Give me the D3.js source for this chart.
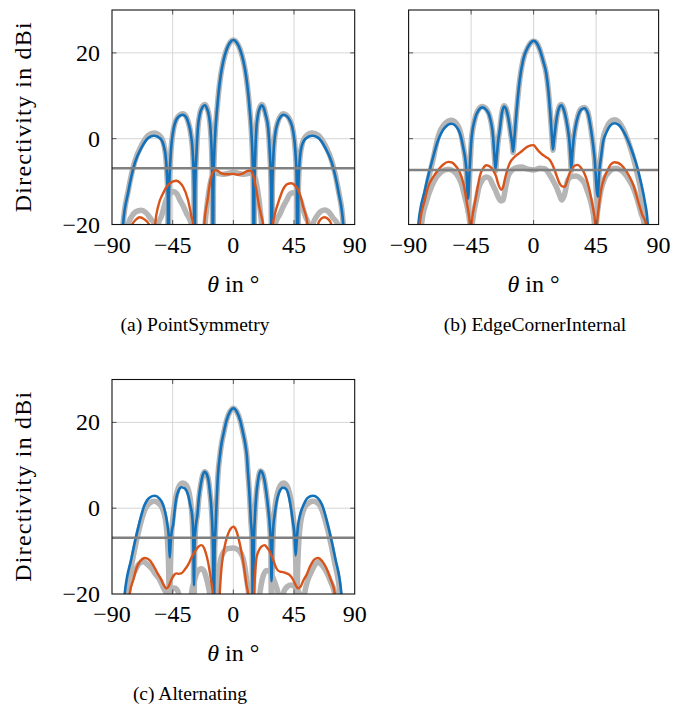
<!DOCTYPE html>
<html><head><meta charset="utf-8">
<script src="https://cdn.jsdelivr.net/npm/d3@7"></script>
<style>body{margin:0;background:#fff}svg{display:block}</style>
</head><body>
<svg id="c" width="685" height="707"></svg>
<script>
// ---------- data (theta in deg, directivity in dBi) ----------
const thetaTicks = [-90, -45, 0, 45, 90];
const dbTicks = [-20, 0, 20];
const captions = ["(a) PointSymmetry", "(b) EdgeCornerInternal", "(c) Alternating"];
const thresholds = [-6.9, -7.3, -6.9];

const aBlue = [[-83,-45],[-81.8,-20],[-78,-12.5],[-73,-5.6],[-68,-2],[-63,0.2],[-58.8,0.7],[-54,0],[-51,-2.5],[-49.5,-7],[-48.6,-14],[-48.2,-45],
[-47.8,-14],[-46.5,-4],[-44.5,2.0],[-42.3,4.4],[-40,5.3],[-37.5,5.6],[-35,5.0],[-33.5,3.8],[-31.5,1],[-30,-4],[-29.2,-12],[-28.8,-45],
[-28.3,-12],[-27.3,-3],[-26.3,2.5],[-24.7,5.9],[-23,7.3],[-21.2,7.8],[-19.5,7.0],[-18.2,5.5],[-16.9,2],[-16,-4],[-15.5,-12],[-15.2,-45],
[-14.8,-12],[-14.3,-5],[-13.3,2],[-12.2,6.5],[-11.2,10],[-9.5,14.5],[-7.5,18],[-5,20.8],[-2.5,22.4],[0,23],[2.5,22.4],[5,20.8],[7.5,18],[9.5,14.5],[11.2,10],[12.2,6.5],[13.3,2],[14.3,-5],[14.8,-12],[15.2,-45],
[15.6,-12],[16.2,-4],[17,2],[18.2,5.5],[19.8,7.3],[21,7.8],[22.5,7.2],[24,5.5],[25.8,2.5],[27,-3],[28,-12],[28.4,-45],
[28.9,-12],[29.7,-4],[31,1],[33,3.8],[35,5.1],[37,5.6],[39.5,5.3],[42,4.2],[44.3,1.8],[46,-3],[47,-10],[47.6,-45],
[48.2,-12],[49,-6],[50.5,-2],[53.5,0],[58.5,0.7],[63,0.2],[68,-2],[73,-5.6],[78,-12.5],[81.5,-20],[83,-45]];

const aGrayHi = [[-83,-45],[-81.8,-20],[-78,-12.2],[-73,-5.2],[-68,-1.5],[-63,0.8],[-58.8,1.3],[-54,0.5],[-51,-2.2],[-49.5,-7],[-48.6,-14],[-48.2,-45],
[-47.8,-14],[-46.5,-4],[-44.5,2.0],[-42.3,4.5],[-40,5.5],[-37.5,5.8],[-35,5.2],[-33.5,3.9],[-31.5,1],[-30,-4],[-29.2,-12],[-28.8,-45],
[-28.3,-12],[-27.3,-3],[-26.3,2.5],[-24.7,6.0],[-23,7.5],[-21.2,8.0],[-19.5,7.2],[-18.2,5.6],[-16.9,2],[-16,-4],[-15.5,-12],[-15.2,-45],
[-14.8,-12],[-14.3,-5],[-13.3,2],[-12.2,6.5],[-11.2,10],[-9.5,14.5],[-7.5,18],[-5,20.8],[-2.5,22.4],[0,23],[2.5,22.4],[5,20.8],[7.5,18],[9.5,14.5],[11.2,10],[12.2,6.5],[13.3,2],[14.3,-5],[14.8,-12],[15.2,-45],
[15.6,-12],[16.2,-4],[17,2],[18.2,5.6],[19.8,7.5],[21,8.0],[22.5,7.4],[24,5.6],[25.8,2.5],[27,-3],[28,-12],[28.4,-45],
[28.9,-12],[29.7,-4],[31,1],[33,3.9],[35,5.3],[37,5.8],[39.5,5.5],[42,4.3],[44.3,1.8],[46,-3],[47,-10],[47.6,-45],
[48.2,-12],[49,-6],[50.5,-2],[53.5,0.5],[58.5,1.3],[63,0.8],[68,-1.5],[73,-5.2],[78,-12.2],[81.5,-20],[83,-45]];

const aOrange = [[-77,-30],[-75,-20],[-72,-18.8],[-69.5,-18.3],[-66,-18.8],[-62.5,-20],[-61,-30],[-59.5,-30],[-58,-20],[-55.8,-15.8],[-52.1,-12.7],[-48.5,-10.8],[-45,-10],[-42.3,-9.8],[-39.5,-10.3],[-37.3,-11.2],[-33.6,-14.3],[-31.1,-18.1],[-29.6,-20.4],[-28,-30],
[-23,-30],[-21.5,-20],[-19,-14],[-17,-9.7],[-15,-7.8],[-13.2,-7.3],[-11,-7.6],[-8.9,-8.1],[-5.2,-8.3],[0,-8.2],[3.5,-8.4],[7,-8.1],[9.7,-7.6],[12,-7.4],[13.6,-7.7],[15.5,-9.5],[17.1,-12],[19,-15.5],[20.8,-18.1],[22,-20],[23.5,-30],
[28,-30],[29.4,-20],[31,-17.3],[33.2,-15],[36.9,-11.8],[40,-10.6],[43,-10.4],[46,-11],[48,-11.9],[50,-13.6],[51.7,-15.8],[54.9,-19.7],[56.5,-30],
[60.5,-30],[62.8,-20],[65,-18.7],[67.8,-18.3],[70.5,-18.8],[72.7,-20],[74.5,-30]];

const aGrayLo = [[-80,-30],[-78,-20],[-74,-17.5],[-70.5,-16.8],[-68.2,-16.7],[-65,-17.2],[-61,-18.8],[-58.3,-20],[-57,-30],
[-55.8,-20],[-53.4,-18.1],[-49.7,-14.2],[-47,-12.8],[-44.7,-12.3],[-42,-12.8],[-39.8,-14.2],[-37,-15.8],[-34.8,-17.4],[-31.1,-20],[-30,-30],
[-23,-30],[-21,-20],[-19.5,-15.5],[-18,-12],[-16,-9],[-13,-8],[-8,-8.3],[-4,-8.1],[0,-7.8],[4,-8.1],[8,-8.3],[13,-8],[16,-9],[18,-12],[19.5,-15.5],[21,-20],[23,-30],
[29.5,-30],[31,-20],[34.8,-17.4],[37,-15.8],[39.8,-14.2],[42,-12.9],[44.3,-12.6],[47,-12.9],[49.7,-14.3],[53.4,-18.1],[55.8,-20],[57,-30],
[59,-20],[62,-18],[65,-16.9],[67.8,-16.6],[70.5,-17],[74,-18.5],[77.5,-20],[79,-30]];

const bBlue = [[-84,-25],[-83,-20],[-78.3,-12],[-73.5,-5.7],[-68.7,-0.3],[-63.9,2.6],[-59.1,3.5],[-54.4,2.2],[-50.8,-1.8],[-48.4,-7.3],[-47.2,-14],[-46,-7],[-44.8,-0.3],[-42.4,4.4],[-39.5,6.7],[-36.9,7.3],[-34,6.7],[-31.6,5.1],[-29.2,0.5],[-28,-5],[-27.4,-7],[-26.5,-4],[-25.5,-0.5],[-24.4,2],[-22.8,6],[-21.3,7.5],[-19.8,6.9],[-18.4,5.1],[-16.5,1.2],[-15.3,-1.5],[-14.8,-3],[-14,-0.5],[-12.4,5.9],[-10,13.7],[-7.6,18.3],[-4,21.4],[-2,22.4],[0,22.8],[2,22.4],[4.3,20.9],[7,18],[9.1,15.2],[10.7,11],[12,5.9],[13.3,0],[13.9,-2.5],[14.5,-1],[15.5,2],[17,5.5],[18.5,7.3],[19.9,7.8],[21.5,7],[23.5,4.4],[25.2,1],[25.9,-1.1],[26.7,-5],[27.1,-7],[27.8,-4],[28.7,-0.5],[30,2.5],[32,5.3],[34,6.7],[36.6,7.1],[39,6],[41.4,2.0],[43.8,-4.2],[46.2,-13.5],[47.2,-8],[48.6,-4.2],[50,-0.8],[52.2,1.3],[55,3],[58.2,3.6],[61,3.3],[64.2,2.0],[68,-0.5],[71.4,-3.4],[74.5,-6.5],[77.4,-10.4],[80,-14.5],[82.2,-20],[83,-25]];

const bGrayHi = [[-82,-25],[-81,-20],[-77,-11.5],[-72.5,-5],[-68.7,0.5],[-63.9,3.5],[-59.1,4.3],[-54.4,3],[-50.8,-1.5],[-48.4,-8],[-47.2,-17],[-46,-8],[-44.8,-0.5],[-42.4,4.4],[-39.5,6.9],[-36.9,7.5],[-34,6.9],[-31.6,5.2],[-29.2,0.5],[-28,-5],[-27.4,-7.5],[-26.5,-4],[-25.5,-0.5],[-24.4,2],[-22.8,6.1],[-21.3,7.7],[-19.8,7.1],[-18.4,5.2],[-16.5,1.2],[-15.3,-1.5],[-14.8,-3.2],[-14,-0.5],[-12.4,5.9],[-10,13.7],[-7.6,18.3],[-4,21.4],[-2,22.4],[0,22.8],[2,22.4],[4.3,20.9],[7,18],[9.1,15.2],[10.7,11],[12,5.9],[13.3,0],[13.9,-2.7],[14.5,-1],[15.5,2],[17,5.6],[18.5,7.5],[19.9,8.0],[21.5,7.2],[23.5,4.5],[25.2,1],[25.9,-1.1],[26.7,-5],[27.1,-7.5],[27.8,-4],[28.7,-0.5],[30,2.5],[32,5.4],[34,6.9],[36.6,7.3],[39,6.2],[41.4,2.0],[43.8,-4.5],[46.2,-16],[47.2,-8],[48.6,-3.5],[50,0],[52.2,2.3],[55,3.9],[58.2,4.4],[61,4],[64.2,2.5],[68,-0.5],[71.4,-4],[74.5,-8],[77.4,-12.5],[79.8,-20],[81,-25]];

const bOrange = [[-83,-25],[-82,-20],[-78.5,-14.5],[-75.9,-11.2],[-72,-8.8],[-68.7,-7.3],[-65,-6],[-61.5,-5.4],[-58.5,-5.6],[-56.8,-6.1],[-54,-7.3],[-52,-8.8],[-50,-11.2],[-48.4,-14.3],[-46.5,-18],[-45.3,-21],[-44,-18],[-41.9,-14.3],[-40,-10.8],[-38.8,-8.8],[-36.5,-7],[-34,-6.2],[-31.5,-6.5],[-29.2,-7.3],[-27,-8.8],[-25.6,-10.4],[-23.2,-11.9],[-22,-11.3],[-20.8,-9.6],[-19,-7.3],[-17.2,-5.7],[-13.6,-4.2],[-8.8,-3],[-4,-1.8],[0,-1.5],[1.9,-2.2],[4,-3],[6.7,-3.8],[9,-4.3],[11.5,-4.9],[13.5,-6],[15.1,-7.3],[17,-9],[18.7,-10.4],[20.5,-11.1],[22.3,-11.2],[24,-10],[25.5,-8.4],[27.1,-7.3],[29.5,-6.3],[31.8,-6.1],[34,-6.7],[36.6,-8.1],[38.5,-9.8],[40.2,-11.9],[42,-14.8],[43.8,-18.1],[45,-21],[46.5,-17],[48.6,-11.9],[51,-9],[53.4,-7.3],[55.5,-6],[58.2,-5.5],[60.5,-5.6],[63,-6.1],[66,-7.2],[69,-8.8],[72,-11],[75,-14.3],[78,-17.5],[81,-20],[82,-25]];

const bGrayLo = [[-82,-25],[-80.7,-20],[-77,-14.5],[-73.5,-11.2],[-70,-9],[-66.3,-7.7],[-61.5,-7.1],[-58,-7.5],[-54.4,-8.8],[-52,-10.5],[-49.6,-13.5],[-47,-17],[-45,-21],[-43,-17],[-41.2,-14.3],[-39.5,-11.5],[-37.6,-10],[-34,-8.9],[-31.5,-9.3],[-29.9,-10.4],[-27.5,-12],[-25.6,-13.5],[-23.5,-14.5],[-22,-14.3],[-20.5,-12],[-18.4,-8.8],[-16,-7.5],[-13.6,-6.9],[-8.8,-6.6],[-4,-7.1],[0,-7.3],[4.3,-6.9],[8,-7],[11.5,-8.4],[14,-9.8],[16.3,-11.2],[18.5,-13],[20.3,-14.3],[22,-13.3],[24.7,-9.6],[27.5,-8.8],[30.6,-8.7],[33.5,-9.2],[36.6,-10.4],[39,-12.5],[41.4,-15],[43,-17.5],[44.5,-21],[46,-17],[48.6,-11.9],[51.5,-9],[54.6,-7.7],[57,-7],[59.4,-6.9],[62.5,-7.3],[65.4,-8.1],[68.5,-9.5],[71.4,-11.2],[74.5,-14],[77.4,-17.4],[79.8,-20],[81,-25]];

const cBlue = [[-82,-25],[-80.6,-20],[-75.6,-11.7],[-70.7,-4.7],[-65.8,0.8],[-62,2.5],[-58.3,2.9],[-55,2.3],[-52.1,0.8],[-50,-1.8],[-48.9,-3.9],[-47.8,-7],[-47.2,-11.5],[-46.5,-8],[-45.5,-5],[-44.7,-3.9],[-43.5,-0.5],[-42.3,2.3],[-40.5,4.2],[-38.6,4.9],[-36,4.6],[-33.6,3.1],[-31.8,0.5],[-30.6,-1.6],[-29.8,-6],[-29.2,-18],[-28.7,-8],[-27.8,-4],[-26.7,-1.6],[-25.5,2.5],[-24.2,5.4],[-22.8,7.6],[-21.2,8.5],[-19.8,8],[-18.3,6.2],[-17.3,3.5],[-16.3,0],[-15.1,-9.3],[-14.5,-30],[-13.9,-10],[-13.3,-5.4],[-12.4,1.5],[-11.4,7.8],[-10,12.2],[-8.9,14.8],[-7,17.8],[-5.2,20.3],[-2.5,22.5],[0,23.3],[2.5,22.5],[5.2,20.3],[7,17.8],[8.9,14.8],[10,12.2],[10.9,8],[12,3],[13,-3],[13.9,-7],[14.5,-30],[15.2,-9],[16,-2],[17,3],[18.3,6.5],[20.1,8.7],[21.6,8.2],[23.2,6.3],[24.5,3.5],[25.8,0],[27,-4],[27.8,-9],[28.3,-17],[28.9,-9],[29.6,-4.5],[30.6,-1.6],[31.8,1],[33.6,3.4],[36.9,4.8],[39.3,4.4],[41.4,2.4],[43,-0.5],[44.3,-3.5],[45.3,-6],[46.2,-11],[46.9,-8],[48,-4],[49.5,-1.5],[52.1,0.8],[55,2.4],[59.1,2.9],[62.5,2.4],[65.8,0.8],[70.7,-4.7],[75.6,-11.7],[80.1,-20],[81,-25]];

const cGrayHi = [[-81,-25],[-79.3,-20],[-75,-12.5],[-70.7,-6],[-65.8,-0.5],[-62,1.2],[-58.5,1.6],[-55,1],[-52.1,-0.5],[-50,-3.5],[-49,-7],[-48,-14],[-47.4,-25],[-46.7,-14],[-45.8,-6],[-44.7,-2],[-43.5,1],[-42,3.5],[-40,5.3],[-37.5,5.9],[-35,5.4],[-33,3.8],[-31.5,1],[-30.3,-4],[-29.6,-12],[-29.2,-25],[-28.7,-10],[-27.8,-4],[-26.7,-1.6],[-25.5,2.5],[-24.2,5.4],[-22.8,7.6],[-21.2,8.5],[-19.8,8],[-18.3,6.2],[-17.3,3.5],[-16.3,0],[-15.1,-10],[-14.5,-30],[-13.9,-10],[-13.3,-5.4],[-12.4,1.5],[-11.4,7.8],[-10,12.2],[-8.9,14.8],[-7,17.8],[-5.2,20.3],[-2.5,22.5],[0,23.3],[2.5,22.5],[5.2,20.3],[7,17.8],[8.9,14.8],[10,12.2],[10.9,8],[12,3],[13,-3],[13.9,-8],[14.5,-30],[15.2,-9],[16,-2],[17,3],[18.3,6.5],[20.1,8.7],[21.6,8.2],[23.2,6.3],[24.5,3.5],[25.8,0],[27,-4],[27.8,-10],[28.3,-25],[28.9,-12],[29.8,-4],[31.2,1],[33,3.8],[35,5.4],[37.2,5.9],[39.7,5.3],[41.7,3.5],[43.2,1],[44.4,-2],[45.5,-6],[46.4,-14],[47,-25],[47.7,-14],[48.7,-7],[49.8,-3.5],[52,-0.5],[55,1],[59,1.6],[62.5,1.2],[65.8,-0.5],[70.7,-6],[75,-12.5],[79,-20],[80,-25]];

const cOrange = [[-78,-25],[-76.9,-20],[-74,-16.5],[-71.9,-14],[-69,-12.3],[-65.8,-11.6],[-62.5,-12],[-59.6,-13.2],[-56.5,-15],[-53.4,-16.7],[-51.5,-18],[-49.7,-18.7],[-48,-18.2],[-46,-16.7],[-44,-15.6],[-42.3,-15.2],[-40.5,-15.3],[-38.6,-15.2],[-36,-14.3],[-33.6,-13.2],[-31,-11.5],[-28.6,-10.1],[-26,-9],[-23.7,-8.6],[-21.8,-9.2],[-20,-10.9],[-18.6,-12.8],[-17.5,-14.8],[-16.2,-17.5],[-15.1,-20],[-13,-30],[-11.5,-30],[-10.1,-20],[-8.8,-14],[-7.6,-10.9],[-5.8,-8],[-3.9,-6],[-2,-4.8],[0,-4.3],[1,-4.5],[2.5,-5.5],[4.7,-8.2],[6.5,-11],[8.4,-14.8],[9.8,-18],[10.9,-20],[12.5,-30],[14,-30],[15.3,-20],[16.2,-15],[17.1,-11.7],[19,-9.8],[21,-8.9],[23.3,-8.6],[25,-9.2],[27,-10.1],[29.5,-12],[31.9,-14],[34.5,-14.8],[36.9,-14.9],[39.5,-15.2],[41.8,-15.6],[44,-16.5],[46,-17.8],[48,-18.7],[50,-18.2],[52,-16.8],[54.2,-15.6],[57,-13.5],[60,-12],[62.8,-11.6],[65.8,-12.3],[69,-14],[72,-16.5],[75.2,-19.8],[76.5,-25]];

const cGrayLo = [[-79.5,-25],[-78.1,-20],[-75.5,-16.5],[-73.2,-14.8],[-70,-13],[-67,-12.5],[-64,-13],[-60.8,-14],[-57.5,-15.5],[-54.6,-16.7],[-52,-18.5],[-49.7,-20],[-48.5,-25],
[-47.8,-25],[-46.8,-20],[-45.5,-18.9],[-43.7,-18.6],[-42,-18.9],[-40.5,-20],[-39,-25],
[-32.5,-25],[-31.1,-20],[-28.5,-16.5],[-26.7,-14.8],[-23.7,-14.1],[-21.5,-14.8],[-20,-16.3],[-18.5,-18.3],[-17.5,-20],[-16,-25],
[-14,-25],[-12.6,-20],[-11.2,-16],[-10.1,-13.2],[-7.6,-10.4],[-3.9,-9.4],[0,-9.3],[2.3,-9.5],[4.5,-10],[7.2,-11.7],[8.7,-14],[9.7,-16.3],[11.4,-20],[13,-25],
[18,-25],[19.6,-20],[21.5,-16.5],[24.5,-14.5],[26.5,-14.6],[29.5,-16.3],[31.5,-18],[33.2,-20],[34.5,-25],
[35.5,-25],[36.9,-20],[40,-18.3],[43,-17.9],[46,-18.5],[49.2,-20],[50.5,-25],
[51.5,-25],[52.9,-20],[55,-17],[57.9,-14.8],[60.5,-13.2],[62.8,-12.6],[65.5,-13.2],[69,-14.8],[72,-17],[75.2,-20],[76.5,-25]];

// ---------- layout ----------
const panels = [
  {left:112, right:354.7, top:10, bottom:224.5, ylab:true, capX:195, capY:331, data:[aGrayHi,aGrayLo,aBlue,aOrange]},
  {left:408.6, right:658.6, top:10, bottom:224.5, ylab:false, capX:535, capY:331, data:[bGrayHi,bGrayLo,bBlue,bOrange]},
  {left:112, right:354.7, top:379.5, bottom:594, ylab:true, capX:190, capY:700, data:[cGrayHi,cGrayLo,cBlue,cOrange]}
];
const COL = {grayThick:"#b5b5b5", blue:"#1271bb", orange:"#d9541a", thr:"#808080", grid:"#d6d6d6"};
const serif = "'Liberation Serif','Times New Roman',serif";

const svg = d3.select("#c");

panels.forEach((p, i) => {
  const x = d3.scaleLinear().domain([-90, 90]).range([p.left, p.right]);
  const y = d3.scaleLinear().domain([-20, 30]).range([p.bottom, p.top]);
  const g = svg.append("g");
  const cid = "clip" + i;
  g.append("clipPath").attr("id", cid).append("rect")
    .attr("x", p.left).attr("y", p.top).attr("width", p.right - p.left).attr("height", p.bottom - p.top);

  // grid
  g.selectAll(".gx").data(thetaTicks.slice(1, -1)).join("line")
    .attr("x1", d => x(d)).attr("x2", d => x(d)).attr("y1", p.top).attr("y2", p.bottom)
    .attr("stroke", COL.grid).attr("stroke-width", 1);
  g.selectAll(".gy").data([0, 20]).join("line")
    .attr("x1", p.left).attr("x2", p.right).attr("y1", d => y(d)).attr("y2", d => y(d))
    .attr("stroke", COL.grid).attr("stroke-width", 1);

  const line = d3.line().x(d => x(d[0])).y(d => y(d[1])).curve(d3.curveMonotoneX);
  const plot = g.append("g").attr("clip-path", `url(#${cid})`);
  const [gh, gl, bl, or] = p.data;
  plot.append("path").datum(gh).attr("d", line).attr("fill", "none").attr("stroke", COL.grayThick).attr("stroke-width", 5.5).attr("stroke-linejoin", "round");
  plot.append("path").datum(gl).attr("d", line).attr("fill", "none").attr("stroke", COL.grayThick).attr("stroke-width", 5.5).attr("stroke-linejoin", "round");
  plot.append("path").datum(bl).attr("d", line).attr("fill", "none").attr("stroke", COL.blue).attr("stroke-width", 2.6).attr("stroke-linejoin", "round");
  plot.append("path").datum(or).attr("d", line).attr("fill", "none").attr("stroke", COL.orange).attr("stroke-width", 2.4).attr("stroke-linejoin", "round");
  plot.append("line").attr("x1", p.left).attr("x2", p.right)
    .attr("y1", y(thresholds[i])).attr("y2", y(thresholds[i]))
    .attr("stroke", COL.thr).attr("stroke-width", 2.4);

  // ticks (inside, both sides)
  const tl = 4.5;
  thetaTicks.slice(1, -1).forEach(t => {
    g.append("line").attr("x1", x(t)).attr("x2", x(t)).attr("y1", p.bottom).attr("y2", p.bottom - tl).attr("stroke", "#555").attr("stroke-width", 1);
    g.append("line").attr("x1", x(t)).attr("x2", x(t)).attr("y1", p.top).attr("y2", p.top + tl).attr("stroke", "#555").attr("stroke-width", 1);
  });
  [0, 20].forEach(t => {
    g.append("line").attr("x1", p.left).attr("x2", p.left + tl).attr("y1", y(t)).attr("y2", y(t)).attr("stroke", "#555").attr("stroke-width", 1);
    g.append("line").attr("x1", p.right).attr("x2", p.right - tl).attr("y1", y(t)).attr("y2", y(t)).attr("stroke", "#555").attr("stroke-width", 1);
  });
  g.append("rect").attr("x", p.left).attr("y", p.top).attr("width", p.right - p.left).attr("height", p.bottom - p.top)
    .attr("fill", "none").attr("stroke", "#111").attr("stroke-width", 1.1);

  const fmt = v => (v < 0 ? "\u2212" + Math.abs(v) : String(v));
  // x tick labels
  g.selectAll(".xt").data(thetaTicks).join("text")
    .attr("x", d => x(d)).attr("y", p.bottom + 28)
    .attr("text-anchor", "middle").attr("font-family", serif).attr("font-size", 24)
    .text(fmt);
  // x label
  const xl = g.append("text").attr("x", x(0)).attr("y", p.bottom + 67)
    .attr("text-anchor", "middle").attr("font-family", serif).attr("font-size", 24);
  xl.append("tspan").attr("font-style", "italic").text("\u03b8");
  xl.append("tspan").text(" in \u00b0");

  if (p.ylab) {
    g.selectAll(".yt").data(dbTicks).join("text")
      .attr("x", p.left - 12).attr("y", d => y(d) + 8)
      .attr("text-anchor", "end").attr("font-family", serif).attr("font-size", 24)
      .text(fmt);
    g.append("text").attr("transform", `translate(31,${(p.top + p.bottom) / 2}) rotate(-90)`)
      .attr("text-anchor", "middle").attr("font-family", serif).attr("font-size", 24)
      .attr("textLength", 190).attr("lengthAdjust", "spacing")
      .text("Directivity in dBi");
  }
  g.append("text").attr("x", p.capX).attr("y", p.capY)
    .attr("text-anchor", "middle").attr("font-family", serif).attr("font-size", 19.5)
    .text(captions[i]);
});
</script>
</body></html>
